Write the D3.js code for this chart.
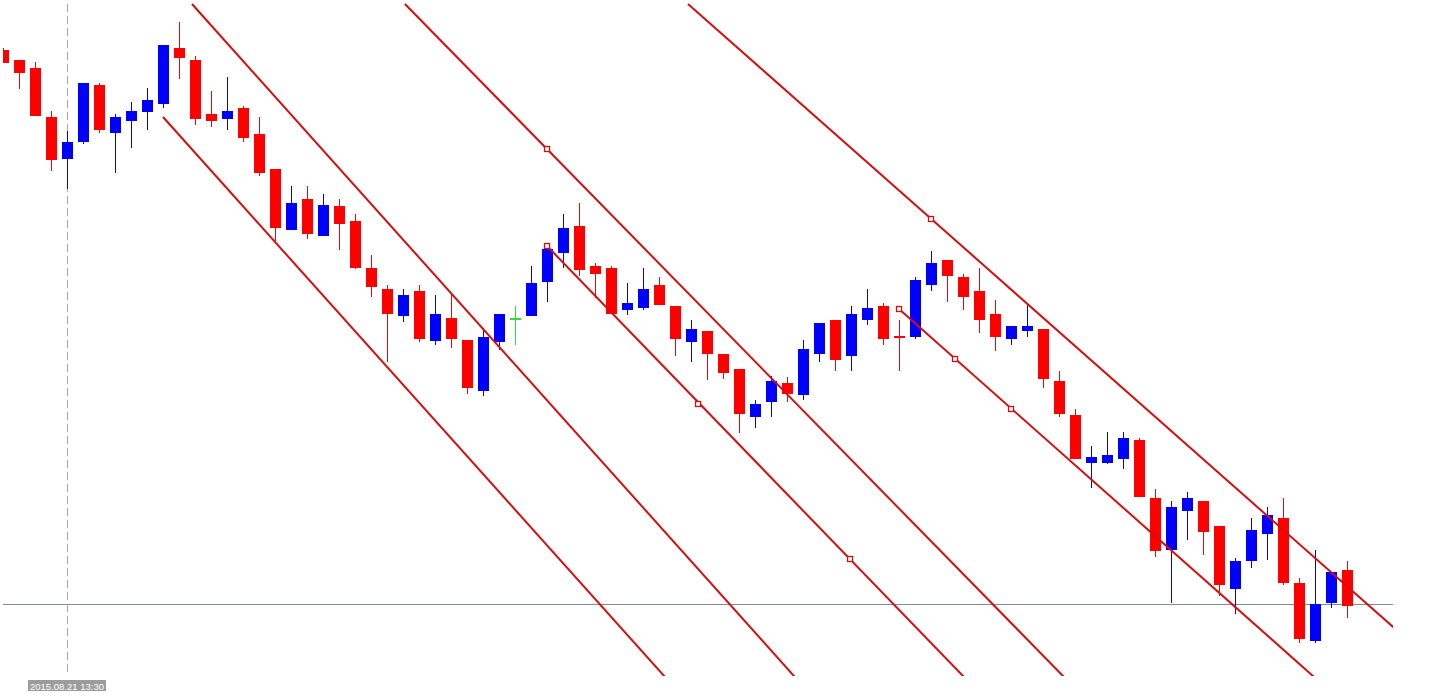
<!DOCTYPE html>
<html>
<head>
<meta charset="utf-8">
<script src="https://cdn.jsdelivr.net/npm/d3@7"></script>
<style>
html,body{margin:0;padding:0;background:#fff;overflow:hidden;}
svg{display:block;}
</style>
</head>
<body>
<svg id="chart" width="1436" height="694"></svg>
<script>
// ---- data (prices in points) ----
const openP  = [650,640,632,583,542,559,615,568,580,589,597,652,640,586,582,592,566,531,471,501,465,494,479,432,411,385,409,360,382,360,310,359,382,385,419,448,474,434,432,391,393,415,394,359,369,346,331,284,299,317,306,347,380,345,381,394,364,364,416,440,423,409,386,362,370,371,319,285,238,238,242,260,202,151,190,199,174,112,140,167,182,117,60,98,130];
const highP  = [652,640,638,589,569,617,617,586,598,612,655,678,644,609,623,594,583,531,514,514,506,501,486,445,415,411,415,405,406,360,372,386,394,434,455,486,497,437,434,417,432,423,394,380,369,346,331,300,324,323,360,377,380,394,411,397,380,423,449,440,426,432,400,374,395,371,329,291,254,268,268,262,211,199,208,199,174,142,182,193,202,122,150,128,139];
const lowP   = [638,612,585,530,512,557,568,528,553,571,593,622,576,574,571,559,525,460,471,462,465,451,432,404,339,379,359,356,353,307,305,351,356,385,399,433,425,403,387,386,391,396,345,339,321,322,268,273,284,299,301,339,330,330,376,356,330,362,410,399,391,368,350,356,364,313,284,242,213,237,232,204,144,98,161,146,105,87,133,141,116,58,58,93,83];
const closeP = [638,628,585,541,558,617,571,583,589,600,655,643,582,580,589,563,528,473,497,467,495,477,433,414,387,405,362,386,362,313,363,386,382,417,451,472,431,427,387,397,411,396,362,371,347,328,287,296,319,307,351,377,341,386,392,362,363,420,437,425,404,381,364,374,374,322,287,242,243,245,262,204,150,193,202,169,116,139,170,185,118,62,96,128,95];
const bidPrice = 96;
const cursorIndex = 4;
const cursorLabel = "2015.08.21 13:30";
// channel lines: [startIndex, startPrice, throughIndex, throughPrice]
const channelLines = [
  [11.78, 696, 33.95, 300],
  [9.97, 583, 41.29, 24],
  [25.09, 696, 66.22, 24],
  [33.97, 454, 59.97, 24],
  [42.78, 696, 86.78, 74],
  [55.97, 391, 81.84, 24]
];
// anchor markers on the channels: [index, price]
const anchorMarks = [
  [33.97, 551], [33.97, 454], [43.41, 296], [52.91, 141],
  [57.97, 481], [55.97, 391], [59.47, 341], [62.97, 291]
];

// ---- scales ----
const W = 1436, H = 694;
const plot = {left: 3, right: 1393, top: 3, bottom: 676};
const x = d3.scaleLinear().domain([0, 84]).range([3.5, 1347.5]);
const y = d3.scaleLinear().domain([0, 700]).range([700, 0]);
const bodyW = 11;

const svg = d3.select("#chart");
svg.append("rect").attr("width", W).attr("height", H).attr("fill", "#fff");

svg.append("defs").append("clipPath").attr("id", "plotClip")
  .append("rect").attr("x", plot.left).attr("y", plot.top)
  .attr("width", plot.right - plot.left).attr("height", plot.bottom - plot.top);

// vertical dashed cursor line
svg.append("line")
  .attr("x1", Math.floor(x(cursorIndex)) + 0.5).attr("x2", Math.floor(x(cursorIndex)) + 0.5)
  .attr("y1", 4).attr("y2", 676)
  .attr("stroke", "#a8a8a8").attr("stroke-width", 1)
  .attr("stroke-dasharray", "8,4");

// bid line
svg.append("line")
  .attr("x1", plot.left).attr("x2", plot.right)
  .attr("y1", Math.floor(y(bidPrice)) + 0.5).attr("y2", Math.floor(y(bidPrice)) + 0.5)
  .attr("stroke", "#7f8c99").attr("stroke-width", 1);

// candles
const candles = d3.range(openP.length).map(i => ({
  i, o: openP[i], h: highP[i], l: lowP[i], c: closeP[i]
}));
const colorOf = d => d.c > d.o ? "#0000ff" : (d.c < d.o ? "#ff0000" : "#33dd33");
const g = svg.append("g").attr("clip-path", "url(#plotClip)");
const cg = g.selectAll("g.candle").data(candles).join("g").attr("class", "candle");
cg.append("line")
  .attr("x1", d => Math.floor(x(d.i)) + 0.5).attr("x2", d => Math.floor(x(d.i)) + 0.5)
  .attr("y1", d => y(d.h)).attr("y2", d => y(d.l) + 1)
  .attr("stroke", colorOf).attr("stroke-width", 1);
cg.append("rect")
  .attr("x", d => Math.floor(x(d.i)) - 5)
  .attr("y", d => y(Math.max(d.o, d.c)))
  .attr("width", bodyW)
  .attr("height", d => Math.max(1, Math.abs(y(d.o) - y(d.c))) + 1)
  .attr("fill", colorOf);

// channel lines
const lg = svg.append("g").attr("clip-path", "url(#plotClip)");
channelLines.forEach(([i1, p1, i2, p2]) => {
  const x1 = x(i1), y1 = y(p1), x2 = x(i2), y2 = y(p2);
  const dx = x2 - x1, dy = y2 - y1;
  const ex = x1 + dx * 5, ey = y1 + dy * 5;
  lg.append("line")
    .attr("x1", x1).attr("y1", y1).attr("x2", ex).attr("y2", ey)
    .attr("stroke", "#d80e0e").attr("stroke-width", 2);
});
lg.selectAll("rect.anchor").data(anchorMarks).join("rect")
  .attr("class", "anchor")
  .attr("x", d => x(d[0]) - 2.5).attr("y", d => y(d[1]) - 2.5)
  .attr("width", 5).attr("height", 5)
  .attr("fill", "#fff").attr("stroke", "#d80e0e").attr("stroke-width", 1.3);

// cursor time label
const lx = Math.floor(x(cursorIndex)) - 39;
svg.append("rect").attr("x", lx).attr("y", 680).attr("width", 78).attr("height", 11)
  .attr("fill", "#9c9c9c");
svg.append("text").attr("x", lx + 39).attr("y", 689.5)
  .attr("text-anchor", "middle")
  .attr("font-family", "Liberation Sans, Arial, sans-serif")
  .attr("font-size", "9.5px").attr("fill", "#fff")
  .text(cursorLabel);
</script>
</body>
</html>
